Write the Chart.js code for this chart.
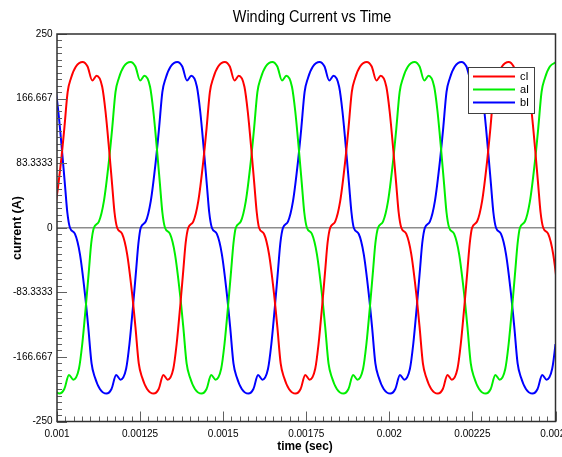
<!DOCTYPE html>
<html>
<head>
<meta charset="utf-8">
<script src="https://cdn.jsdelivr.net/npm/chart.js@4.4.1/dist/chart.umd.min.js"></script>
<style>
  html, body { margin: 0; padding: 0; background: #ffffff; }
  #wrap { width: 562px; height: 457px; }
</style>
</head>
<body>
<div id="wrap"><canvas id="c" width="562" height="457"></canvas></div>
<script>
// ---------- text ----------
const chartTitle = "Winding Current vs Time";
const xAxisTitle = "time (sec)";
const yAxisTitle = "current (A)";

// ---------- tick labels ----------
const xTickValues = [0.001, 0.00125, 0.0015, 0.00175, 0.002, 0.00225, 0.0025];
const xTickLabels = ["0.001", "0.00125", "0.0015", "0.00175", "0.002", "0.00225", "0.0025"];
const yTickValues = [-250, -166.667, -83.3333, 0, 83.3333, 166.667, 250];
const yTickLabels = ["-250", "-166.667", "-83.3333", "0", "83.3333", "166.667", "250"];

// ---------- series (time in microseconds, current in A) ----------
const seriesNames = ["cI", "aI", "bI"];

const cTimeUs = [952, 959,
  967, 982, 997, 1012, 1022, 1032, 1042, 1057, 1077, 1092, 1106, 1119, 1136, 1146, 1157, 1166, 1173,
  1181, 1196, 1211, 1226, 1236, 1246, 1256, 1271, 1291, 1306, 1320, 1333, 1350, 1360, 1371, 1380, 1387,
  1395, 1410, 1425, 1440, 1450, 1460, 1470, 1485, 1505, 1520, 1534, 1547, 1564, 1574, 1585, 1594, 1601,
  1608, 1623, 1638, 1653, 1663, 1673, 1683, 1698, 1718, 1733, 1747, 1760, 1777, 1787, 1798, 1807, 1814,
  1822, 1837, 1852, 1867, 1877, 1887, 1897, 1912, 1932, 1947, 1961, 1974, 1991, 2001, 2012, 2021, 2028,
  2036, 2051, 2066, 2081, 2091, 2101, 2111, 2126, 2146, 2161, 2175, 2188, 2205, 2215, 2226, 2235, 2242,
  2249, 2264, 2279, 2294, 2304, 2314, 2324, 2339, 2359, 2374, 2388, 2401, 2418, 2428, 2439, 2448, 2455,
  2463, 2478, 2493, 2508, 2518];
const cCurrent = [-55, -20,
  0, 8, 34, 85, 128, 175, 193, 208, 214, 208, 190, 196, 182, 150, 100, 55, 20,
  0, -8, -34, -85, -128, -175, -193, -208, -214, -208, -190, -196, -182, -150, -100, -55, -20,
  0, 8, 34, 85, 128, 175, 193, 208, 214, 208, 190, 196, 182, 150, 100, 55, 20,
  0, -8, -34, -85, -128, -175, -193, -208, -214, -208, -190, -196, -182, -150, -100, -55, -20,
  0, 8, 34, 85, 128, 175, 193, 208, 214, 208, 190, 196, 182, 150, 100, 55, 20,
  0, -8, -34, -85, -128, -175, -193, -208, -214, -208, -190, -196, -182, -150, -100, -55, -20,
  0, 8, 34, 85, 128, 175, 193, 208, 214, 208, 190, 196, 182, 150, 100, 55, 20,
  0, -8, -34, -85, -128];

const aTimeUs = [987, 1007, 1022, 1036, 1049, 1066, 1076, 1087, 1096, 1103,
  1111, 1126, 1141, 1156, 1166, 1176, 1186, 1201, 1221, 1236, 1250, 1263, 1280, 1290, 1301, 1310, 1317,
  1325, 1340, 1355, 1370, 1380, 1390, 1400, 1415, 1435, 1450, 1464, 1477, 1494, 1504, 1515, 1524, 1531,
  1538, 1553, 1568, 1583, 1593, 1603, 1613, 1628, 1648, 1663, 1677, 1690, 1707, 1717, 1728, 1737, 1744,
  1752, 1767, 1782, 1797, 1807, 1817, 1827, 1842, 1862, 1877, 1891, 1904, 1921, 1931, 1942, 1951, 1958,
  1966, 1981, 1996, 2011, 2021, 2031, 2041, 2056, 2076, 2091, 2105, 2118, 2135, 2145, 2156, 2165, 2172,
  2180, 2195, 2210, 2225, 2235, 2245, 2255, 2270, 2290, 2305, 2319, 2332, 2349, 2359, 2370, 2379, 2386,
  2393, 2408, 2423, 2438, 2448, 2458, 2468, 2483, 2503];
const aCurrent = [-208, -214, -208, -190, -196, -182, -150, -100, -55, -20,
  0, 8, 34, 85, 128, 175, 193, 208, 214, 208, 190, 196, 182, 150, 100, 55, 20,
  0, -8, -34, -85, -128, -175, -193, -208, -214, -208, -190, -196, -182, -150, -100, -55, -20,
  0, 8, 34, 85, 128, 175, 193, 208, 214, 208, 190, 196, 182, 150, 100, 55, 20,
  0, -8, -34, -85, -128, -175, -193, -208, -214, -208, -190, -196, -182, -150, -100, -55, -20,
  0, 8, 34, 85, 128, 175, 193, 208, 214, 208, 190, 196, 182, 150, 100, 55, 20,
  0, -8, -34, -85, -128, -175, -193, -208, -214, -208, -190, -196, -182, -150, -100, -55, -20,
  0, 8, 34, 85, 128, 175, 193, 208, 214];

const bTimeUs = [935, 950, 964, 977, 994, 1004, 1015, 1024, 1031,
  1039, 1054, 1069, 1084, 1094, 1104, 1114, 1129, 1149, 1164, 1178, 1191, 1208, 1218, 1229, 1238, 1245,
  1252, 1267, 1282, 1297, 1307, 1317, 1327, 1342, 1362, 1377, 1391, 1404, 1421, 1431, 1442, 1451, 1458,
  1466, 1481, 1496, 1511, 1521, 1531, 1541, 1556, 1576, 1591, 1605, 1618, 1635, 1645, 1656, 1665, 1672,
  1680, 1695, 1710, 1725, 1735, 1745, 1755, 1770, 1790, 1805, 1819, 1832, 1849, 1859, 1870, 1879, 1886,
  1893, 1908, 1923, 1938, 1948, 1958, 1968, 1983, 2003, 2018, 2032, 2045, 2062, 2072, 2083, 2092, 2099,
  2107, 2122, 2137, 2152, 2162, 2172, 2182, 2197, 2217, 2232, 2246, 2259, 2276, 2286, 2297, 2306, 2313,
  2321, 2336, 2351, 2366, 2376, 2386, 2396, 2411, 2431, 2446, 2460, 2473, 2490, 2500, 2511];
const bCurrent = [214, 208, 190, 196, 182, 150, 100, 55, 20,
  0, -8, -34, -85, -128, -175, -193, -208, -214, -208, -190, -196, -182, -150, -100, -55, -20,
  0, 8, 34, 85, 128, 175, 193, 208, 214, 208, 190, 196, 182, 150, 100, 55, 20,
  0, -8, -34, -85, -128, -175, -193, -208, -214, -208, -190, -196, -182, -150, -100, -55, -20,
  0, 8, 34, 85, 128, 175, 193, 208, 214, 208, 190, 196, 182, 150, 100, 55, 20,
  0, -8, -34, -85, -128, -175, -193, -208, -214, -208, -190, -196, -182, -150, -100, -55, -20,
  0, 8, 34, 85, 128, 175, 193, 208, 214, 208, 190, 196, 182, 150, 100, 55, 20,
  0, -8, -34, -85, -128, -175, -193, -208, -214, -208, -190, -196, -182, -150, -100];

// ---------- styling ----------
const FONT = "'Liberation Sans', Arial, sans-serif";
const seriesColors = ["#ff0000", "#00ee00", "#0000ff"];

function toPoints(times, vals) {
  return times.map((t, i) => ({ x: t / 1e6, y: vals[i] }));
}

function narrowText(ctx, text, x, y, sx) {
  ctx.save();
  ctx.translate(x, y);
  ctx.scale(sx, 1);
  ctx.fillText(text, 0, 0);
  ctx.restore();
}

const decor = {
  id: 'decor',
  beforeDatasetsDraw(chart) {
    const { ctx, chartArea: a, scales: { y } } = chart;
    const y0 = y.getPixelForValue(0);
    ctx.save();
    ctx.strokeStyle = '#8c8c8c';
    ctx.lineWidth = 1.5;
    ctx.beginPath();
    ctx.moveTo(a.left, y0);
    ctx.lineTo(a.right, y0);
    ctx.stroke();
    ctx.restore();
  },
  afterDraw(chart) {
    const { ctx, chartArea: a, scales: { x, y } } = chart;
    ctx.save();
    // minor / major tick marks drawn inside the frame
    ctx.strokeStyle = '#606060';
    ctx.lineWidth = 1;
    const nY = 60;
    for (let i = 0; i <= nY; i++) {
      const v = -250 + i * (500 / nY);
      const py = Math.round(y.getPixelForValue(v)) + 0.5;
      const len = (i % 10 === 0) ? 10 : 5;
      ctx.beginPath(); ctx.moveTo(a.left, py); ctx.lineTo(a.left + len, py); ctx.stroke();
    }
    const nX = 60;
    for (let i = 0; i <= nX; i++) {
      const v = 0.001 + i * (0.0015 / nX);
      const px = Math.round(x.getPixelForValue(v)) + 0.5;
      const len = (i % 10 === 0) ? 10 : 5;
      ctx.beginPath(); ctx.moveTo(px, a.bottom); ctx.lineTo(px, a.bottom - len); ctx.stroke();
    }
    // frame
    ctx.strokeStyle = '#303030';
    ctx.lineWidth = 1.5;
    ctx.strokeRect(a.left, a.top, a.right - a.left, a.bottom - a.top);

    // title and axis titles
    ctx.fillStyle = '#000';
    ctx.textAlign = 'center';
    ctx.textBaseline = 'middle';
    ctx.font = "17px " + FONT;
    narrowText(ctx, chartTitle, 312, 17, 0.85);
    ctx.font = "bold 12.5px " + FONT;
    narrowText(ctx, xAxisTitle, 305, 447, 0.95);
    ctx.save();
    ctx.translate(18, 228);
    ctx.rotate(-Math.PI / 2);
    ctx.fillText(yAxisTitle, 0, 0);
    ctx.restore();

    // legend
    const lx = 468, ly = 67, lw = 66, lh = 46;
    ctx.fillStyle = '#fff';
    ctx.fillRect(lx, ly, lw, lh);
    ctx.strokeStyle = '#404040';
    ctx.lineWidth = 1;
    ctx.strokeRect(lx + 0.5, ly + 0.5, lw, lh);
    ctx.font = "11px " + FONT;
    ctx.textAlign = 'left';
    chart.data.datasets.forEach((ds, i) => {
      const yy = ly + 9.5 + i * 13;
      ctx.strokeStyle = ds.borderColor;
      ctx.lineWidth = 2;
      ctx.beginPath(); ctx.moveTo(lx + 5, yy); ctx.lineTo(lx + 47, yy); ctx.stroke();
      ctx.fillStyle = '#000';
      ctx.fillText(ds.label, lx + 52, yy);
    });
    ctx.restore();
  }
};

new Chart(document.getElementById('c'), {
  type: 'line',
  data: {
    datasets: [
      { label: seriesNames[0], data: toPoints(cTimeUs, cCurrent), borderColor: seriesColors[0] },
      { label: seriesNames[1], data: toPoints(aTimeUs, aCurrent), borderColor: seriesColors[1] },
      { label: seriesNames[2], data: toPoints(bTimeUs, bCurrent), borderColor: seriesColors[2] }
    ].map(d => Object.assign(d, { borderWidth: 2, pointRadius: 0, fill: false, cubicInterpolationMode: 'monotone' }))
  },
  options: {
    responsive: false,
    animation: false,
    events: [],
    layout: { padding: { left: 0, right: 6.5, top: 34, bottom: 0 }, autoPadding: false },
    plugins: { legend: { display: false }, title: { display: false }, tooltip: { enabled: false } },
    scales: {
      x: {
        type: 'linear', min: 0.001, max: 0.0025,
        afterBuildTicks: s => { s.ticks = xTickValues.map(v => ({ value: v })); },
        afterFit: s => { s.height = 35.5; s.paddingLeft = 0; s.paddingRight = 0; },
        grid: { display: false, drawTicks: false },
        border: { display: false },
        ticks: {
          autoSkip: false, maxRotation: 0, minRotation: 0, padding: 7,
          color: '#000', font: { family: FONT, size: 10 },
          callback: (v, i) => xTickLabels[i]
        }
      },
      y: {
        type: 'linear', min: -250, max: 250,
        afterBuildTicks: s => { s.ticks = yTickValues.map(v => ({ value: v })); },
        afterFit: s => { s.width = 57; s.paddingTop = 0; s.paddingBottom = 0; },
        grid: { display: false, drawTicks: false },
        border: { display: false },
        ticks: {
          autoSkip: false, padding: 4.5,
          color: '#000', font: { family: FONT, size: 10 },
          callback: (v, i) => yTickLabels[i]
        }
      }
    }
  },
  plugins: [decor]
});
</script>
</body>
</html>
